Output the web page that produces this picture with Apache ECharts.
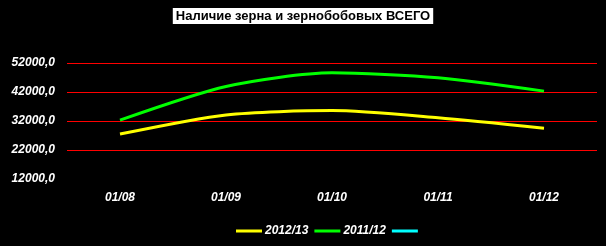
<!DOCTYPE html>
<html><head><meta charset="utf-8">
<script src="https://cdn.jsdelivr.net/npm/echarts@6/dist/echarts.min.js"></script>
<style>html,body{margin:0;padding:0;background:#000}#c{width:606px;height:246px}</style>
</head><body><div id="c"></div>
<script>
const categories = ['01/08','01/09','01/10','01/11','01/12'];
const s2012 = [27500, 34100, 35600, 33100, 29500];
const s2011 = [32300, 43900, 48600, 46900, 42300];
const s3 = [];
const seriesNames = ['2012/13','2011/12',' '];
const titleText = 'Наличие зерна и зернобобовых ВСЕГО';

const chart = echarts.init(document.getElementById('c'), null, {renderer:'canvas'});
const ff = '"Liberation Sans", Arial, sans-serif';
chart.setOption({
  backgroundColor:'#000',
  animation:false,
  title:{text:titleText,left:'center',top:8,padding:[2,3,1,3],backgroundColor:'#fff',
    textStyle:{color:'#000',fontFamily:ff,fontWeight:'bold',fontSize:13}},
  grid:{left:67,right:9,top:63,height:116,containLabel:false},
  legend:{top:220,left:231,itemGap:6,itemWidth:26,itemHeight:3,icon:'rect',
    data:seriesNames,
    textStyle:{color:'#fff',fontFamily:ff,fontWeight:'bold',fontStyle:'italic',fontSize:12,padding:[0,0,0,-2]}},
  xAxis:{type:'category',data:categories,boundaryGap:true,
    axisLine:{show:false},axisTick:{show:false},
    axisLabel:{color:'#fff',fontFamily:ff,fontWeight:'bold',fontStyle:'italic',fontSize:12,margin:13}},
  yAxis:{type:'value',min:12000,max:52000,interval:10000,
    axisLine:{show:false},axisTick:{show:false},
    splitLine:{show:true,showMinLine:false,showMaxLine:true,lineStyle:{color:['#ff0000','#ff0000'],width:1}},
    axisLabel:{color:'#fff',fontFamily:ff,fontWeight:'bold',fontStyle:'italic',fontSize:12,margin:12,
      formatter:v=>v.toFixed(1).replace('.',',')}},
  series:[
    {name:seriesNames[0],type:'line',data:s2012,smooth:0.25,showSymbol:false,
      lineStyle:{color:'#ffff00',width:3},itemStyle:{color:'#ffff00'}},
    {name:seriesNames[1],type:'line',data:s2011,smooth:0.25,showSymbol:false,
      lineStyle:{color:'#00ff00',width:3},itemStyle:{color:'#00ff00'}},
    {name:seriesNames[2],type:'line',data:s3,showSymbol:false,
      lineStyle:{color:'#00ffff',width:3},itemStyle:{color:'#00ffff'}}
  ]
});
</script></body></html>
